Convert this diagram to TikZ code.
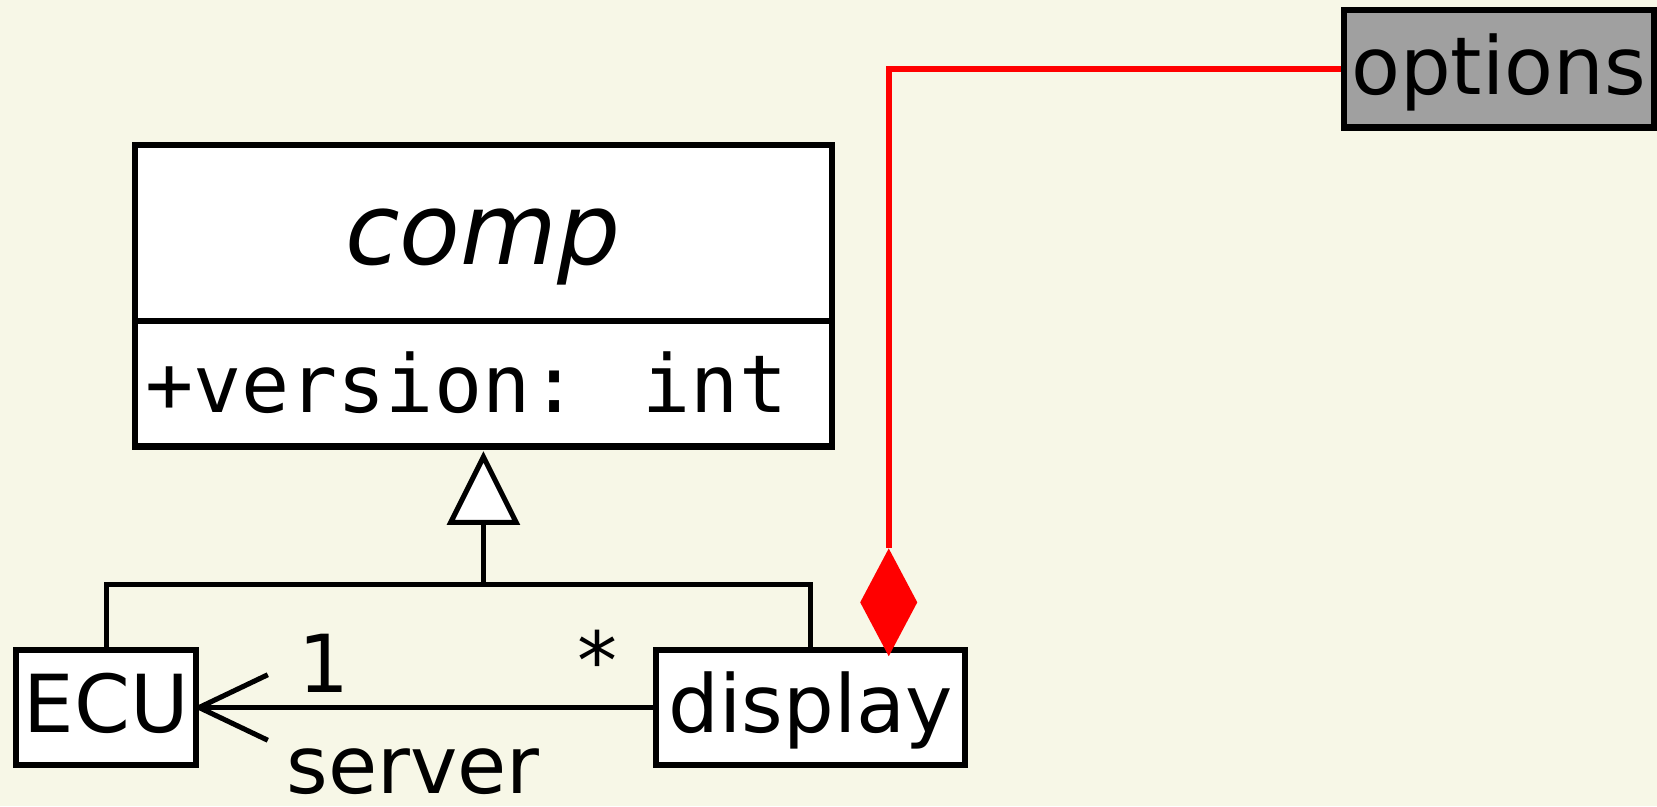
\documentclass[tikz,border=0pt]{standalone}
\usepackage{fontspec}
\setmainfont{DejaVu Sans}
\newfontfamily\umlmono{DejaVu Sans Mono}
\usetikzlibrary{calc}
\definecolor{bgc}{RGB}{247,247,231}
\definecolor{optgray}{RGB}{160,160,160}
\tikzset{
  umlbox/.style={draw=black, line width=2.9pt, fill=white, inner sep=0pt, line join=miter},
  txt/.style={inner sep=0pt, font=\fontsize{37.85pt}{40pt}\selectfont},
  conn/.style={draw=black, line width=2.4pt, line join=miter},
  compo/.style={draw=red, line width=2.9pt, line join=miter},
}
\begin{document}
\begin{tikzpicture}[x=0.5pt, y=-0.5pt]
\path[fill=bgc] (0,0) rectangle (1568,763);
\useasboundingbox (0,0) rectangle (1568,763);

% class comp
\node[umlbox, minimum width=330pt, minimum height=83.25pt] (comp) at (457.5,220.75) {};
\node[umlbox, minimum width=330pt, minimum height=59.25pt] (attr) at (457.5,363.25) {};
\node[txt, anchor=base, font=\fontsize{47pt}{50pt}\selectfont\itshape] (comptxt) at (457,250) {comp};
\node[txt, anchor=base west, font=\fontsize{37.85pt}{40pt}\selectfont\umlmono] (attrtxt) at (137,390) {+version: int};

% other classes
\node[umlbox, minimum width=85pt, minimum height=54pt] (ECU) at (100.5,669.5) {};
\node[txt, anchor=base] (ecutxt) at (100.5,693) {ECU};
\node[umlbox, minimum width=146pt, minimum height=54pt] (display) at (767,669.5) {};
\node[txt, anchor=base] (disptxt) at (767,693) {display};
\node[umlbox, line width=3.1pt, fill=optgray, minimum width=146.7pt, minimum height=55.5pt] (options) at (1418.3,65) {};
\node[txt, anchor=base] (opttxt) at (1418,89) {options};

% generalization
\coordinate (genj) at (457.5,553);
\coordinate (tritip) at ($(attr.south)+(0,7)$);
\coordinate (tribase) at ($(tritip)+(0,62)$);
\draw[conn] (ECU.north) |- (genj) -| (display.north);
\draw[conn] (genj) -- (tribase);
\draw[conn, fill=white] (tritip) -- ++(-31,62) -- ++(62,0) -- cycle;

% association
\draw[conn] (display.west) -- (ECU.east);
\draw[conn] ($(ECU.east)+(65,-31)$) -- (ECU.east) -- ($(ECU.east)+(65,31)$);
\node[txt, anchor=base] (mult1) at (307,655) {1};
\node[txt, anchor=base] (multstar) at (565,652) {*};
\node[txt, anchor=base] (role) at (391,751) {server};

% composition
\coordinate (dtip) at (841,621);
\coordinate (dtop) at (841,519);
\draw[compo] (options.west) -| (dtop);
\fill[red] (dtip) -- ++(-27,-51) -- ++(27,-51) -- ++(27,51) -- cycle;
\end{tikzpicture}
\end{document}
